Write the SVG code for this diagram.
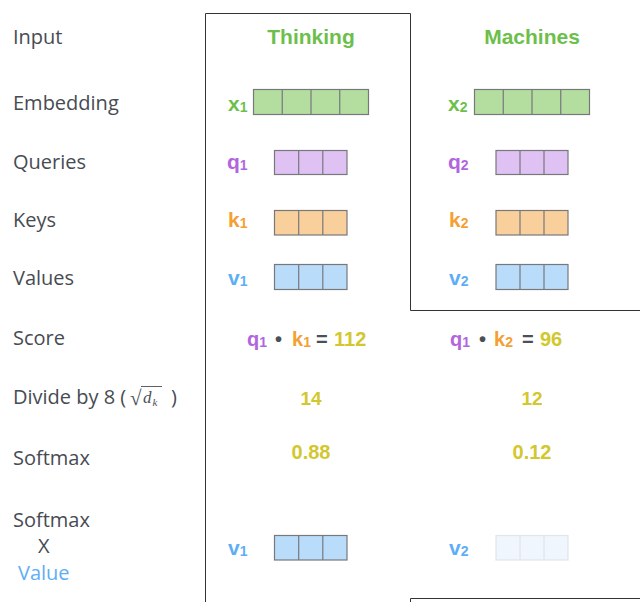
<svg xmlns="http://www.w3.org/2000/svg" width="640" height="602" viewBox="0 0 640 602">
  <style>
    .lbl { font-family: "Open Sans", "Liberation Sans", sans-serif; font-size: 20px; fill: #474b52; }
    .b { font-family: "Liberation Sans", Arial, sans-serif; font-weight: bold; }
    .title { font-size: 21px; fill: #6dbf4b; text-anchor: middle; }
    .sym { font-size: 21px; }
    .sub { font-size: 14px; }
    .sc { font-size: 20px; }
    .num { font-size: 19px; fill: #d3c72e; text-anchor: middle; }
    .green { fill: #6dbf4b; }
    .purple { fill: #b266dd; }
    .orange { fill: #f5a033; }
    .blue { fill: #5eaef5; }
    .yellow { fill: #d3c72e; }
    .dark { fill: #4b4f56; }
    .frame { fill: none; stroke: #333; stroke-width: 1; }
    .cell { stroke: #77787c; stroke-width: 1.2; }
    .cx { fill: #b4dea0; }
    .cq { fill: #dfc1f3; }
    .ck { fill: #f9d09b; }
    .cv { fill: #b9dcfb; }
    .faint { fill: #eff6fe; stroke: #e1e4e8; stroke-width: 1.2; }
  </style>

  <!-- row labels -->
  <g id="row-labels">
    <text class="lbl" x="13" y="44">Input</text>
    <text class="lbl" x="13" y="110">Embedding</text>
    <text class="lbl" x="13" y="169">Queries</text>
    <text class="lbl" x="13" y="227">Keys</text>
    <text class="lbl" x="13" y="285">Values</text>
    <text class="lbl" x="13" y="345">Score</text>
    <text class="lbl" x="13" y="404">Divide by 8 (</text>
    <g id="sqrt-dk">
      <text x="130" y="405" style="font-family:'Liberation Serif',serif;font-size:21px;fill:#4b4f56">√</text>
      <line x1="141" y1="386.5" x2="162" y2="386.5" stroke="#4b4f56" stroke-width="0.9"/>
      <text x="143" y="403" style="font-family:'Liberation Serif',serif;font-style:italic;font-size:17px;fill:#4b4f56">d</text>
      <text x="152.5" y="406" style="font-family:'Liberation Serif',serif;font-style:italic;font-size:11px;fill:#4b4f56">k</text>
    </g>
    <text class="lbl" x="171" y="404">)</text>
    <text class="lbl" x="13" y="465">Softmax</text>
    <text class="lbl" x="13" y="527">Softmax</text>
    <text class="lbl" x="38" y="553">X</text>
    <text class="lbl" x="18" y="580" style="fill:#5eaef5">Value</text>
  </g>

  <!-- outline frames around the word columns -->
  <g id="connectors">
    <path class="frame" d="M205.5,602 V13.5 H410.5 V310.5 H640"/>
    <path class="frame" d="M410.5,602 V598.5 H640"/>
  </g>

  <!-- column: Thinking -->
  <g id="word-thinking">
    <text class="b title" x="311" y="44">Thinking</text>
  </g>
  <g id="x1">
    <text class="b sym green" x="228" y="111">x<tspan class="sub" dy="1">1</tspan></text>
    <rect class="cell cx" x="253.5" y="89.5" width="115" height="25"/>
    <path class="cell" d="M282.25,89.5 V114.5 M311,89.5 V114.5 M339.75,89.5 V114.5"/>
  </g>
  <g id="q1">
    <text class="b sym purple" x="227" y="169">q<tspan class="sub" dy="1">1</tspan></text>
    <rect class="cell cq" x="274.5" y="150.5" width="72.5" height="24"/>
    <path class="cell" d="M298.7,150.5 V174.5 M322.8,150.5 V174.5"/>
  </g>
  <g id="k1">
    <text class="b sym orange" x="228" y="227">k<tspan class="sub" dy="1">1</tspan></text>
    <rect class="cell ck" x="274.5" y="210.5" width="72.5" height="24.5"/>
    <path class="cell" d="M298.7,210.5 V235 M322.8,210.5 V235"/>
  </g>
  <g id="v1">
    <text class="b sym blue" x="228" y="285">v<tspan class="sub" dy="1">1</tspan></text>
    <rect class="cell cv" x="274.5" y="264.5" width="72.5" height="25"/>
    <path class="cell" d="M298.7,264.5 V289.5 M322.8,264.5 V289.5"/>
  </g>
  <g id="score-1">
    <text class="b sc purple" x="247" y="346">q<tspan class="sub" dy="1">1</tspan></text>
    <text class="b dark" x="275" y="346" style="font-size:20px">•</text>
    <text class="b sc orange" x="292" y="346">k<tspan class="sub" dy="1">1</tspan></text>
    <text class="b sc dark" x="316" y="346">=</text>
    <text class="b sc yellow" x="334" y="346">112</text>
  </g>
  <g id="scaled-1">
    <text class="b num" x="311" y="405">14</text>
  </g>
  <g id="softmax-1">
    <text class="b num" x="311" y="459" style="font-size:20px">0.88</text>
  </g>
  <g id="weighted-v1">
    <text class="b sym blue" x="228" y="555">v<tspan class="sub" dy="1">1</tspan></text>
    <rect class="cell cv" x="274.5" y="535.5" width="72.5" height="24.5"/>
    <path class="cell" d="M298.7,535.5 V560 M322.8,535.5 V560"/>
  </g>

  <!-- column: Machines -->
  <g id="word-machines">
    <text class="b title" x="532" y="44">Machines</text>
  </g>
  <g id="x2">
    <text class="b sym green" x="448" y="111">x<tspan class="sub" dy="1">2</tspan></text>
    <rect class="cell cx" x="474.5" y="89.5" width="115" height="25"/>
    <path class="cell" d="M503.25,89.5 V114.5 M532,89.5 V114.5 M560.75,89.5 V114.5"/>
  </g>
  <g id="q2">
    <text class="b sym purple" x="448" y="169">q<tspan class="sub" dy="1">2</tspan></text>
    <rect class="cell cq" x="496" y="150.5" width="72" height="24"/>
    <path class="cell" d="M520,150.5 V174.5 M544,150.5 V174.5"/>
  </g>
  <g id="k2">
    <text class="b sym orange" x="449" y="227">k<tspan class="sub" dy="1">2</tspan></text>
    <rect class="cell ck" x="496" y="210.5" width="72" height="24.5"/>
    <path class="cell" d="M520,210.5 V235 M544,210.5 V235"/>
  </g>
  <g id="v2">
    <text class="b sym blue" x="449" y="285">v<tspan class="sub" dy="1">2</tspan></text>
    <rect class="cell cv" x="496" y="264.5" width="72" height="25"/>
    <path class="cell" d="M520,264.5 V289.5 M544,264.5 V289.5"/>
  </g>
  <g id="score-2">
    <text class="b sc purple" x="450" y="346">q<tspan class="sub" dy="1">1</tspan></text>
    <text class="b dark" x="479" y="346" style="font-size:20px">•</text>
    <text class="b sc orange" x="494" y="346">k<tspan class="sub" dy="1">2</tspan></text>
    <text class="b sc dark" x="522" y="346">=</text>
    <text class="b sc yellow" x="540" y="346">96</text>
  </g>
  <g id="scaled-2">
    <text class="b num" x="532" y="405">12</text>
  </g>
  <g id="softmax-2">
    <text class="b num" x="532" y="459" style="font-size:20px">0.12</text>
  </g>
  <g id="weighted-v2">
    <text class="b sym blue" x="449" y="555">v<tspan class="sub" dy="1">2</tspan></text>
    <rect class="faint" x="496" y="535.5" width="72" height="24.5"/>
    <path class="faint" d="M520,535.5 V560 M544,535.5 V560"/>
  </g>
</svg>
